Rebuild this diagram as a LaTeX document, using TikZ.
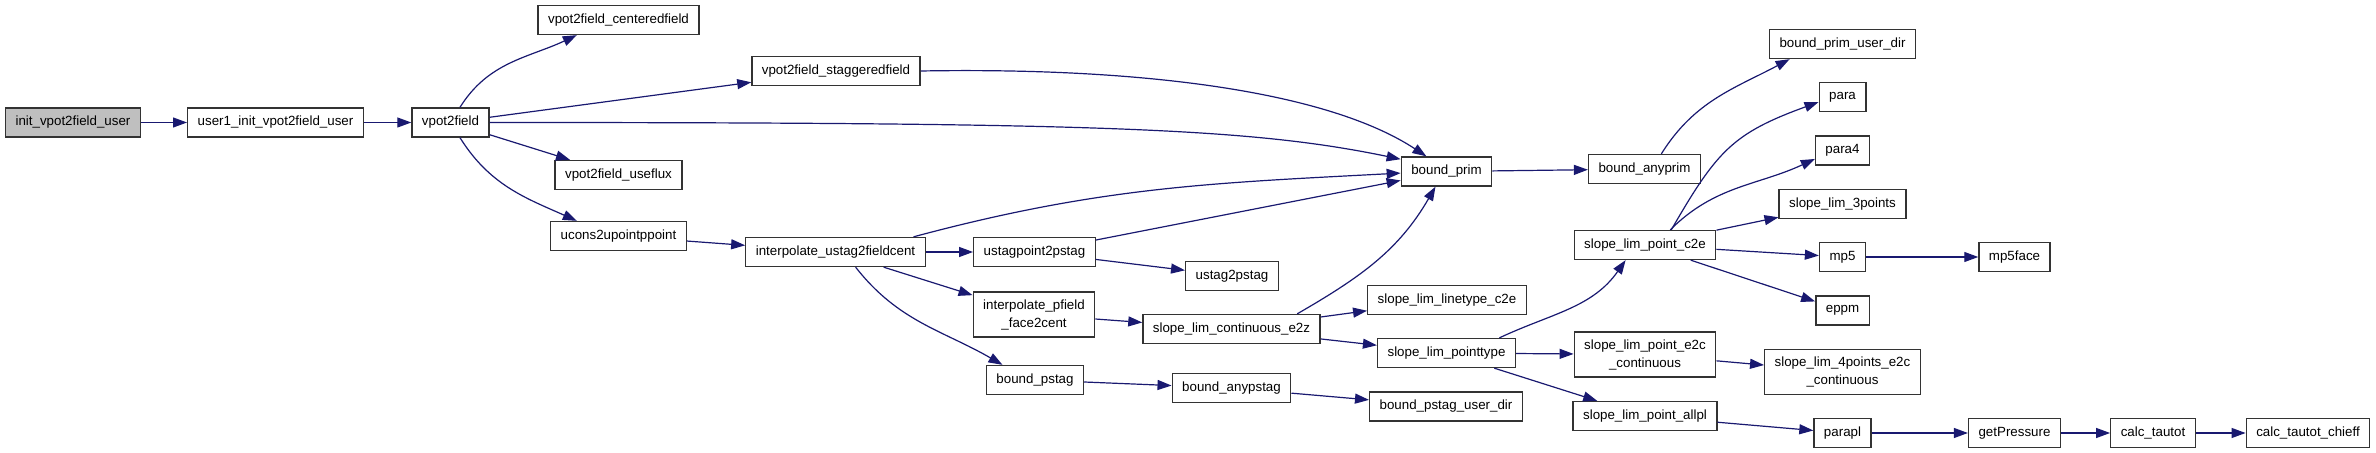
\documentclass[tikz,border=0pt]{standalone}
\usepackage{fontspec}
\setmainfont{Liberation Sans}
\usepackage{tikz}
\usetikzlibrary{arrows.meta}
\definecolor{callblue}{RGB}{25,25,112}
\definecolor{rootgray}{RGB}{191,191,191}

\begin{document}
\begin{tikzpicture}[x=0.75pt, y=0.75pt, >={Triangle[length=10.5pt, width=7.5pt]},
  fn/.style={draw=black!80, line width=1pt, fill=white, minimum height=21.75pt,
    inner xsep=7.5pt, inner ysep=2pt, align=center, font=\fontsize{10}{13.5}\selectfont},
  fntwo/.style={fn, minimum height=33.75pt},
  call/.style={->, draw=callblue, line width=0.9pt}]
  \useasboundingbox (0,0) rectangle (2376,453);

  % call chain from the root
  \node[fn, fill=rootgray] (init) at (73,330.5) {init\_vpot2field\_user};
  \node[fn] (user1) at (275.5,330.5) {user1\_init\_vpot2field\_user};
  \node[fn] (vpot) at (450.5,330.5) {vpot2field};
  \node[fn] (cent) at (618.5,433) {vpot2field\_centeredfield};
  \node[fn] (stag) at (836,382) {vpot2field\_staggeredfield};
  \node[fn] (useflux) at (618.5,278) {vpot2field\_useflux};
  \node[fn] (ucons) at (618.5,217) {ucons2upointppoint};
  \node[fn] (iustag) at (835.5,201) {interpolate\_ustag2fieldcent};
  \node[fn] (ustagpt) at (1034.5,201) {ustagpoint2pstag};
  \node[fn] (ustag2) at (1232,177) {ustag2pstag};
  \node[fntwo] (ipfield) at (1034,138.5) {interpolate\_pfield\\\_face2cent};
  \node[fn] (slce2z) at (1231.5,124) {slope\_lim\_continuous\_e2z};
  \node[fn] (linetype) at (1447,153) {slope\_lim\_linetype\_c2e};
  \node[fn] (pointtype) at (1446.5,100) {slope\_lim\_pointtype};
  \node[fn] (bpstag) at (1035,73) {bound\_pstag};
  \node[fn] (banypstag) at (1231.5,65) {bound\_anypstag};
  \node[fn] (bpstagdir) at (1446,46.5) {bound\_pstag\_user\_dir};
  \node[fn] (bprim) at (1446.5,281.5) {bound\_prim};
  \node[fn] (banyprim) at (1644.5,284) {bound\_anyprim};
  \node[fn] (bprimdir) at (1842.5,409) {bound\_prim\_user\_dir};

  % slope limiter branch
  \node[fn] (pc2e) at (1645,208) {slope\_lim\_point\_c2e};
  \node[fn] (para) at (1842.5,356) {para};
  \node[fn] (para4) at (1842.5,302.5) {para4};
  \node[fn] (s3points) at (1842.5,249) {slope\_lim\_3points};
  \node[fn] (mp5) at (1842.5,196) {mp5};
  \node[fn] (mp5face) at (2014.5,196) {mp5face};
  \node[fn] (eppm) at (1842.5,142.5) {eppm};
  \node[fntwo] (pe2c) at (1645,98.5) {slope\_lim\_point\_e2c\\\_continuous};
  \node[fntwo] (s4points) at (1842.5,81) {slope\_lim\_4points\_e2c\\\_continuous};
  \node[fn] (pallpl) at (1645,37) {slope\_lim\_point\_allpl};
  \node[fn] (parapl) at (1842.5,20) {parapl};
  \node[fn] (getp) at (2014.5,20) {getPressure};
  \node[fn] (tautot) at (2153,20) {calc\_tautot};
  \node[fn] (chieff) at (2308,20) {calc\_tautot\_chieff};

  \draw[call] (init) -- (user1);
  \draw[call] (user1) -- (vpot);
  \draw[call] (vpot) to[out=58, in=205] (cent.200);
  \draw[call] (vpot) -- (stag);
  \draw[call] (vpot.east) .. controls (1100,330.5) and (1250,325) .. (bprim.165);
  \draw[call] (vpot) -- (useflux);
  \draw[call] (vpot) to[out=-58, in=156] (ucons.160);
  \draw[call] (stag.east) .. controls (1150,386) and (1330,360) .. (bprim.143);
  \draw[call] (ucons) -- (iustag);
  \draw[call] (iustag.11) to[out=15, in=183] (bprim.182);
  \draw[call] (iustag) -- (ustagpt);
  \draw[call] (iustag) -- (ipfield);
  \draw[call] (iustag.323) to[out=-52, in=150] (bpstag.155);
  \draw[call] (ustagpt) -- (bprim);
  \draw[call] (ustagpt) -- (ustag2);
  \draw[call] (ipfield) -- (slce2z);
  \draw[call] (slce2z.13) to[out=30, in=240] (bprim.234);
  \draw[call] (slce2z) -- (linetype);
  \draw[call] (slce2z) -- (pointtype);
  \draw[call] (bpstag) -- (banypstag);
  \draw[call] (banypstag) -- (bpstagdir);
  \draw[call] (bprim) -- (banyprim);
  \draw[call] (banyprim.42) to[out=58, in=208] (bprimdir.196);
  \draw[call] (pointtype.16) to[out=25, in=235] (pc2e.218);
  \draw[call] (pointtype) -- (pe2c);
  \draw[call] (pointtype) -- (pallpl);
  \draw[call] (pc2e.30) to[out=60, in=200, looseness=1.2] (para.192);
  \draw[call] (pc2e.31) to[out=45, in=205] (para4.197);
  \draw[call] (pc2e) -- (s3points);
  \draw[call] (pc2e) -- (mp5);
  \draw[call] (pc2e) -- (eppm);
  \draw[call] (mp5) -- (mp5face);
  \draw[call] (pe2c) -- (s4points);
  \draw[call] (pallpl) -- (parapl);
  \draw[call] (parapl) -- (getp);
  \draw[call] (getp) -- (tautot);
  \draw[call] (tautot) -- (chieff);
\end{tikzpicture}
\end{document}
